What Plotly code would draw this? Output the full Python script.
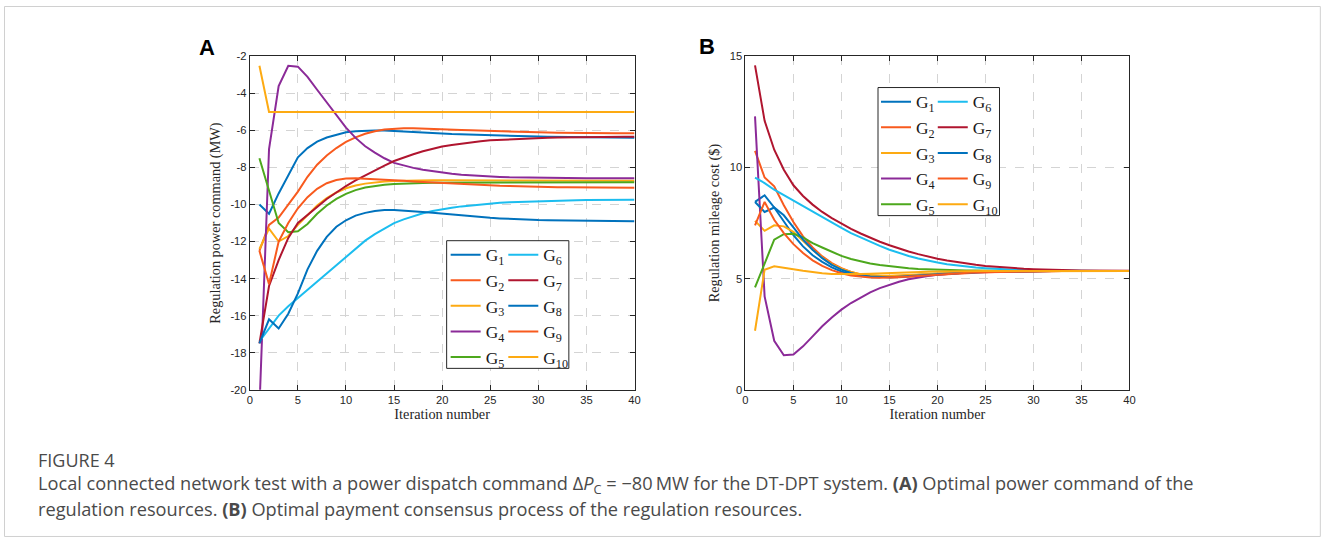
import plotly.graph_objects as go

iterations = list(range(1, 41))
series_names = ["G<sub>1</sub>", "G<sub>2</sub>", "G<sub>3</sub>", "G<sub>4</sub>", "G<sub>5</sub>",
                "G<sub>6</sub>", "G<sub>7</sub>", "G<sub>8</sub>", "G<sub>9</sub>", "G<sub>10</sub>"]
colors = ["#0072BD", "#F85A1E", "#FDAA12", "#8B2A98", "#4DA81D",
          "#1CBDEF", "#B0152F", "#0072BD", "#F85A1E", "#FDAA12"]

# Panel A: regulation power command (MW)
A_G1 = [-10.0, -10.5, -9.4, -8.4, -7.45, -6.95, -6.6, -6.38, -6.22, -6.1,
        -6.04, -6.01, -6.0, -6.0, -6.02, -6.04, -6.07, -6.1, -6.13, -6.16,
        -6.19, -6.21, -6.23, -6.25, -6.27, -6.29, -6.3, -6.31, -6.32, -6.33,
        -6.34, -6.35, -6.36, -6.36, -6.37, -6.37, -6.38, -6.38, -6.38, -6.39]
A_G2 = [-12.5, -11.1, -10.7, -10.0, -9.3, -8.5, -7.85, -7.35, -6.95, -6.62,
        -6.37, -6.18, -6.04, -5.95, -5.9, -5.88, -5.88, -5.89, -5.91, -5.93,
        -5.95, -5.97, -5.99, -6.01, -6.03, -6.05, -6.06, -6.08, -6.09, -6.1,
        -6.11, -6.12, -6.13, -6.13, -6.14, -6.14, -6.15, -6.15, -6.15, -6.15]
A_G3 = [-12.4, -11.3, -12.0, -11.7, -11.1, -10.55, -10.05, -9.65, -9.35, -9.12,
        -8.97, -8.87, -8.8, -8.76, -8.73, -8.71, -8.7, -8.69, -8.69, -8.69,
        -8.69, -8.7, -8.7, -8.7, -8.7, -8.7, -8.71, -8.71, -8.71, -8.71,
        -8.71, -8.72, -8.72, -8.72, -8.72, -8.72, -8.72, -8.72, -8.72, -8.72]
A_G4 = [-21.0, -7.0, -3.6, -2.5, -2.55, -3.1, -3.8, -4.5, -5.2, -5.85,
        -6.4, -6.85, -7.2, -7.5, -7.75, -7.9, -8.02, -8.12, -8.2, -8.28,
        -8.34, -8.39, -8.43, -8.46, -8.49, -8.51, -8.53, -8.54, -8.55, -8.56,
        -8.57, -8.57, -8.58, -8.58, -8.58, -8.58, -8.58, -8.58, -8.58, -8.58]
A_G5 = [-7.5, -9.2, -11.0, -11.5, -11.45, -11.05, -10.5, -10.05, -9.7, -9.42,
        -9.22, -9.08, -8.99, -8.93, -8.89, -8.86, -8.84, -8.83, -8.82, -8.82,
        -8.81, -8.81, -8.81, -8.81, -8.8, -8.8, -8.8, -8.8, -8.8, -8.8,
        -8.8, -8.8, -8.8, -8.8, -8.8, -8.8, -8.8, -8.8, -8.8, -8.8]
A_G6 = [-17.4, -16.7, -16.0, -15.5, -15.05, -14.6, -14.15, -13.7, -13.25, -12.8,
        -12.35, -11.95, -11.6, -11.3, -11.0, -10.8, -10.62, -10.47, -10.35, -10.25,
        -10.17, -10.1, -10.04, -9.98, -9.94, -9.9, -9.87, -9.85, -9.83, -9.82,
        -9.8, -9.79, -9.78, -9.77, -9.76, -9.76, -9.75, -9.75, -9.74, -9.74]
A_G7 = [-17.5, -14.4, -13.0, -11.8, -11.0, -10.55, -10.1, -9.7, -9.35, -9.0,
        -8.7, -8.42, -8.15, -7.9, -7.65, -7.45, -7.28, -7.12, -6.98, -6.87,
        -6.78, -6.7, -6.63, -6.58, -6.53, -6.5, -6.47, -6.44, -6.42, -6.4,
        -6.39, -6.38, -6.37, -6.36, -6.36, -6.35, -6.35, -6.35, -6.34, -6.34]
A_G8 = [-17.5, -16.2, -16.7, -15.9, -14.8, -13.5, -12.5, -11.75, -11.2, -10.85,
        -10.6, -10.45, -10.35, -10.3, -10.3, -10.32, -10.36, -10.4, -10.45, -10.5,
        -10.55, -10.6, -10.64, -10.68, -10.72, -10.75, -10.78, -10.8, -10.82, -10.84,
        -10.85, -10.86, -10.87, -10.88, -10.89, -10.89, -10.9, -10.9, -10.9, -10.9]
A_G9 = [-12.5, -14.3, -12.0, -11.0, -10.2, -9.6, -9.15, -8.85, -8.68, -8.6,
        -8.58, -8.6, -8.63, -8.66, -8.69, -8.72, -8.75, -8.78, -8.81, -8.84,
        -8.87, -8.9, -8.93, -8.95, -8.97, -8.99, -9.0, -9.02, -9.03, -9.04,
        -9.05, -9.06, -9.07, -9.08, -9.08, -9.09, -9.09, -9.1, -9.1, -9.1]
A_G10 = [-2.5, -5.0, -5.0, -5.0, -5.0, -5.0, -5.0, -5.0, -5.0, -5.0,
         -5.0, -5.0, -5.0, -5.0, -5.0, -5.0, -5.0, -5.0, -5.0, -5.0,
         -5.0, -5.0, -5.0, -5.0, -5.0, -5.0, -5.0, -5.0, -5.0, -5.0,
         -5.0, -5.0, -5.0, -5.0, -5.0, -5.0, -5.0, -5.0, -5.0, -5.0]

# Panel B: regulation mileage cost ($)
B_G1 = [8.45, 8.75, 8.2, 7.55, 6.95, 6.45, 6.05, 5.75, 5.5, 5.32,
        5.2, 5.12, 5.08, 5.07, 5.08, 5.1, 5.13, 5.16, 5.19, 5.22,
        5.25, 5.27, 5.29, 5.3, 5.31, 5.32, 5.33, 5.33, 5.34, 5.34,
        5.34, 5.34, 5.34, 5.34, 5.34, 5.34, 5.34, 5.34, 5.34, 5.34]
B_G2 = [10.75, 9.55, 9.15, 8.3, 7.55, 6.9, 6.4, 6.0, 5.7, 5.47,
        5.3, 5.18, 5.1, 5.06, 5.05, 5.06, 5.08, 5.1, 5.13, 5.16,
        5.19, 5.22, 5.25, 5.27, 5.29, 5.3, 5.31, 5.32, 5.33, 5.33,
        5.34, 5.34, 5.34, 5.34, 5.34, 5.34, 5.34, 5.34, 5.34, 5.34]
B_G3 = [7.6, 7.15, 7.4, 7.35, 7.1, 6.7, 6.3, 5.95, 5.65, 5.45,
        5.3, 5.2, 5.15, 5.13, 5.13, 5.15, 5.18, 5.2, 5.23, 5.25,
        5.27, 5.29, 5.3, 5.31, 5.32, 5.33, 5.33, 5.34, 5.34, 5.34,
        5.34, 5.34, 5.34, 5.34, 5.34, 5.34, 5.34, 5.34, 5.34, 5.34]
B_G4 = [12.3, 4.2, 2.2, 1.55, 1.58, 1.95, 2.4, 2.85, 3.25, 3.6,
        3.9, 4.15, 4.38, 4.57, 4.73, 4.86, 4.97, 5.05, 5.12, 5.17,
        5.21, 5.24, 5.27, 5.29, 5.3, 5.31, 5.32, 5.33, 5.33, 5.34,
        5.34, 5.34, 5.34, 5.34, 5.34, 5.34, 5.34, 5.34, 5.34, 5.34]
B_G5 = [4.6, 5.65, 6.75, 7.0, 7.02, 6.85, 6.6, 6.4, 6.2, 6.02,
        5.88, 5.77, 5.68, 5.61, 5.55, 5.5, 5.46, 5.43, 5.41, 5.39,
        5.38, 5.37, 5.36, 5.36, 5.35, 5.35, 5.35, 5.34, 5.34, 5.34,
        5.34, 5.34, 5.34, 5.34, 5.34, 5.34, 5.34, 5.34, 5.34, 5.34]
B_G6 = [9.55, 9.3, 9.0, 8.75, 8.5, 8.25, 8.0, 7.75, 7.5, 7.28,
        7.05, 6.85, 6.65, 6.47, 6.3, 6.15, 6.02, 5.9, 5.8, 5.72,
        5.65, 5.59, 5.54, 5.5, 5.47, 5.44, 5.42, 5.4, 5.39, 5.38,
        5.37, 5.36, 5.36, 5.35, 5.35, 5.35, 5.34, 5.34, 5.34, 5.34]
B_G7 = [14.6, 12.1, 10.8, 9.9, 9.2, 8.72, 8.33, 8.0, 7.72, 7.47,
        7.24, 7.03, 6.84, 6.66, 6.5, 6.35, 6.22, 6.1, 5.99, 5.89,
        5.81, 5.74, 5.68, 5.62, 5.57, 5.53, 5.49, 5.46, 5.44, 5.42,
        5.4, 5.39, 5.38, 5.37, 5.36, 5.36, 5.35, 5.35, 5.35, 5.35]
B_G8 = [8.45, 8.0, 8.2, 7.85, 7.3, 6.75, 6.3, 5.92, 5.62, 5.4,
        5.25, 5.15, 5.09, 5.06, 5.06, 5.08, 5.1, 5.13, 5.16, 5.19,
        5.22, 5.25, 5.27, 5.29, 5.3, 5.31, 5.32, 5.33, 5.34, 5.34,
        5.34, 5.34, 5.34, 5.34, 5.34, 5.34, 5.34, 5.34, 5.34, 5.34]
B_G9 = [7.4, 8.45, 7.65, 7.05, 6.55, 6.15, 5.82, 5.57, 5.38, 5.24,
        5.14, 5.08, 5.05, 5.04, 5.05, 5.07, 5.09, 5.12, 5.15, 5.18,
        5.21, 5.24, 5.26, 5.28, 5.29, 5.3, 5.31, 5.32, 5.33, 5.33,
        5.34, 5.34, 5.34, 5.34, 5.34, 5.34, 5.34, 5.34, 5.34, 5.34]
B_G10 = [2.65, 5.4, 5.55, 5.5, 5.42, 5.35, 5.28, 5.24, 5.21, 5.2,
         5.2, 5.21, 5.22, 5.24, 5.26, 5.28, 5.29, 5.3, 5.31, 5.32,
         5.33, 5.33, 5.34, 5.34, 5.34, 5.34, 5.34, 5.34, 5.34, 5.34,
         5.34, 5.34, 5.34, 5.34, 5.34, 5.34, 5.34, 5.34, 5.34, 5.34]

A_series = [A_G1, A_G2, A_G3, A_G4, A_G5, A_G6, A_G7, A_G8, A_G9, A_G10]
B_series = [B_G1, B_G2, B_G3, B_G4, B_G5, B_G6, B_G7, B_G8, B_G9, B_G10]

x_ticks = [0, 5, 10, 15, 20, 25, 30, 35, 40]
A_y_ticks = [-20, -18, -16, -14, -12, -10, -8, -6, -4, -2]
B_y_ticks = [0, 5, 10, 15]

W, H = 1327, 543
# layout placement helpers (target picture pixels -> paper fractions)
SX, CX, SY, CY = 0.994, 2.0, 0.975, 6.0
def dx(x):
    return (x - CX) / SX
def dy(y):
    return (y - CY) / SY
def px(x):
    return dx(x) / W
def py(y):
    return 1 - dy(y) / H

fig = go.Figure()

for i, (name, ys) in enumerate(zip(series_names, A_series)):
    fig.add_trace(go.Scatter(x=iterations, y=ys, mode="lines", name=name,
                             line=dict(color=colors[i], width=2),
                             xaxis="x", yaxis="y",
                             legend="legend" if i < 5 else "legend2"))
for i, (name, ys) in enumerate(zip(series_names, B_series)):
    fig.add_trace(go.Scatter(x=iterations, y=ys, mode="lines", name=name,
                             line=dict(color=colors[i], width=2),
                             xaxis="x2", yaxis="y2",
                             legend="legend3" if i < 5 else "legend4"))

axis_common = dict(showline=True, linecolor="#262626", linewidth=1, mirror="ticks",
                   ticks="inside", ticklen=5, tickcolor="#262626",
                   showgrid=True, gridcolor="#d4d4d4", griddash="dash", gridwidth=1,
                   zeroline=False,
                   tickfont=dict(family="Liberation Sans", size=11.2, color="#262626"))
title_font = dict(family="Liberation Serif", size=14.3, color="#262626")

ydom = [py(388.5), py(56.3)]
fig.update_layout(
    width=W, height=H, margin=dict(l=0, r=0, t=0, b=0),
    paper_bgcolor="white", plot_bgcolor="white",
    xaxis=dict(domain=[px(249), px(634)], range=[0, 40], tickvals=x_ticks,
               title=dict(text="Iteration number", font=title_font, standoff=3),
               anchor="y", **axis_common),
    yaxis=dict(domain=ydom, range=[-20, -2], tickvals=A_y_ticks,
               ticktext=[str(v) for v in A_y_ticks],
               title=dict(text="Regulation power command (MW)", font=title_font, standoff=6),
               anchor="x", **axis_common),
    xaxis2=dict(domain=[px(745), px(1129.3)], range=[0, 40], tickvals=x_ticks,
                title=dict(text="Iteration number", font=title_font, standoff=3),
                anchor="y2", **axis_common),
    yaxis2=dict(domain=ydom, range=[0, 15], tickvals=B_y_ticks,
                title=dict(text="Regulation mileage cost ($)", font=title_font, standoff=6),
                anchor="x2", **axis_common),
)

LEG_FS = 17.4
item_h = 1.3 * LEG_FS + 3
def leg_top(first_row_y):
    return 1 - (dy(first_row_y) - item_h / 2 - 5) / H

leg_common = dict(font=dict(family="Liberation Serif", size=LEG_FS, color="#1a1a1a"),
                  bgcolor="rgba(0,0,0,0)", borderwidth=0, xanchor="left", yanchor="top",
                  itemwidth=30, tracegroupgap=0, orientation="v")
fig.update_layout(
    legend=dict(x=px(445), y=leg_top(253.5), **leg_common),
    legend2=dict(x=px(502.7), y=leg_top(253.5), **leg_common),
    legend3=dict(x=px(875.7), y=leg_top(101), **leg_common),
    legend4=dict(x=px(932.5), y=leg_top(101), **leg_common),
)

shapes = [
    dict(type="rect", xref="paper", yref="paper", x0=px(446), x1=px(568.3), y0=py(367.3), y1=py(240),
         line=dict(color="#262626", width=1), fillcolor="white", layer="above"),
    dict(type="rect", xref="paper", yref="paper", x0=px(877.7), x1=px(999.3), y0=py(215), y1=py(87.3),
         line=dict(color="#262626", width=1), fillcolor="white", layer="above"),
    dict(type="rect", xref="paper", yref="paper", x0=px(3.5), x1=0.9995, y0=0.001, y1=0.999,
         line=dict(color="#d0d0d0", width=1), fillcolor="rgba(0,0,0,0)", layer="below"),
]
fig.update_layout(shapes=shapes)

cap_font = dict(family="Open Sans", size=18.2, color="#4a4a4a")
annotations = [
    dict(text="<b>A</b>", x=px(206), y=py(47.5), xref="paper", yref="paper", showarrow=False,
         xanchor="center", yanchor="middle", font=dict(family="Liberation Sans", size=22, color="black")),
    dict(text="<b>B</b>", x=px(706.5), y=py(46.5), xref="paper", yref="paper", showarrow=False,
         xanchor="center", yanchor="middle", font=dict(family="Liberation Sans", size=22, color="black")),
    dict(text="FIGURE 4", x=px(35), y=py(458.5), xref="paper", yref="paper", showarrow=False,
         xanchor="left", yanchor="middle", font=dict(family="Open Sans", size=18, color="#4a4a4a")),
    dict(text="Local connected network test with a power dispatch command \u0394<i>P</i><sub>C</sub> = \u221280\u2009MW for the DT-DPT system. <b>(A)</b> Optimal power command of the",
         x=px(35), y=py(483.5), xref="paper", yref="paper", showarrow=False,
         xanchor="left", yanchor="middle", font=cap_font),
    dict(text="regulation resources. <b>(B)</b> Optimal payment consensus process of the regulation resources.",
         x=px(35), y=py(507.5), xref="paper", yref="paper", showarrow=False,
         xanchor="left", yanchor="middle", font=cap_font),
]
fig.update_layout(annotations=annotations)

fig.write_html("out.html", config={"displayModeBar": False})
